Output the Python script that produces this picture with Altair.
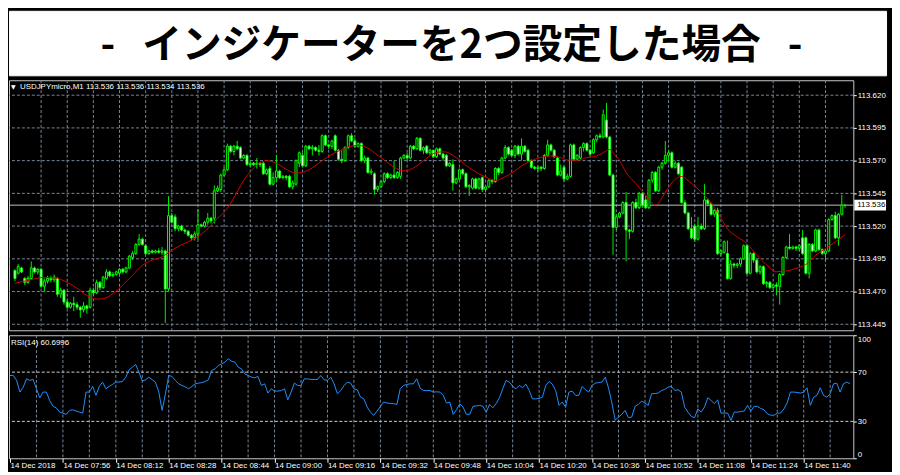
import altair as alt
import pandas as pd

TITLE = "-\u00a0\u00a0\u00a0インジケーターを2つ設定した場合\u00a0\u00a0\u00a0-"
HEADER_MAIN = "USDJPYmicro,M1  113.536 113.536 113.534 113.536"
HEADER_RSI = "RSI(14) 60.6996"

OPEN = [
113.486,113.484,113.488,113.480,113.477,113.480,113.488,113.485,113.487,113.474,113.478,113.480,113.479,113.480,113.468,113.471,
113.462,113.458,113.461,113.460,113.458,113.456,113.459,113.458,113.471,113.469,113.477,113.473,113.480,113.485,113.482,113.483,
113.484,113.487,113.485,113.488,113.496,113.499,113.506,113.510,113.505,113.499,113.501,113.500,113.501,113.500,113.501,113.472,
113.528,113.527,113.518,113.520,113.517,113.516,113.513,113.511,113.514,113.521,113.520,113.523,113.526,113.526,113.547,113.548,
113.559,113.563,113.581,113.577,113.581,113.580,113.572,113.574,113.567,113.568,113.567,113.568,113.568,113.560,113.564,113.552,
113.557,113.562,113.557,113.558,113.558,113.550,113.552,113.568,113.574,113.566,113.581,113.579,113.580,113.578,113.577,113.589,
113.582,113.581,113.589,113.578,113.571,113.570,113.580,113.589,113.585,113.581,113.583,113.570,113.572,113.561,113.560,113.548,
113.550,113.554,113.560,113.557,113.559,113.557,113.558,113.572,113.574,113.572,113.581,113.579,113.587,113.578,113.581,113.576,
113.578,113.573,113.579,113.575,113.574,113.566,113.567,113.553,113.556,113.563,113.560,113.550,113.549,113.556,113.549,113.557,
113.548,113.550,113.555,113.554,113.564,113.561,113.572,113.580,113.578,113.574,113.581,113.575,113.581,113.578,113.570,113.565,
113.564,113.565,113.564,113.574,113.582,113.578,113.572,113.559,113.565,113.556,113.558,113.582,113.571,113.572,113.580,113.583,
113.578,113.576,113.586,113.589,113.588,113.601,113.588,113.559,113.519,113.527,113.530,113.538,113.517,113.516,113.538,113.534,
113.545,113.540,113.534,113.555,113.561,113.547,113.565,113.568,113.574,113.576,113.565,113.568,113.565,113.538,113.530,113.518,
113.520,113.510,113.520,113.518,113.540,113.537,113.529,113.532,113.499,113.500,113.499,113.480,113.491,113.490,113.491,113.495,
113.505,113.484,113.499,113.494,113.485,113.489,113.476,113.477,113.473,113.475,113.474,113.483,113.496,113.504,113.503,113.504,
113.503,113.511,113.511,113.484,113.506,113.501,113.517,113.502,113.499,113.501,113.525,113.528,113.511,113.529,113.536]

HIGH = [
113.487,113.491,113.489,113.481,113.482,113.493,113.489,113.488,113.488,113.480,113.482,113.482,113.483,113.481,113.473,113.472,
113.464,113.462,113.466,113.462,113.459,113.462,113.460,113.473,113.473,113.479,113.478,113.482,113.487,113.486,113.485,113.486,
113.488,113.488,113.489,113.498,113.501,113.507,113.514,113.511,113.506,113.502,113.502,113.502,113.503,113.504,113.502,113.543,
113.530,113.529,113.521,113.521,113.518,113.517,113.514,113.516,113.533,113.522,113.524,113.530,113.527,113.551,113.551,113.560,
113.565,113.583,113.582,113.582,113.585,113.581,113.575,113.575,113.569,113.569,113.572,113.569,113.569,113.564,113.566,113.561,
113.574,113.563,113.559,113.559,113.559,113.555,113.571,113.577,113.576,113.582,113.582,113.582,113.581,113.582,113.590,113.590,
113.583,113.586,113.590,113.579,113.578,113.581,113.590,113.591,113.587,113.584,113.584,113.574,113.573,113.564,113.561,113.551,
113.555,113.561,113.561,113.560,113.570,113.562,113.573,113.575,113.576,113.582,113.582,113.588,113.588,113.581,113.582,113.579,
113.578,113.580,113.580,113.576,113.575,113.569,113.571,113.557,113.564,113.564,113.561,113.552,113.557,113.557,113.557,113.558,
113.551,113.556,113.556,113.565,113.565,113.573,113.582,113.581,113.579,113.582,113.582,113.587,113.582,113.579,113.571,113.566,
113.566,113.566,113.575,113.586,113.583,113.579,113.573,113.567,113.566,113.560,113.583,113.583,113.575,113.581,113.584,113.584,
113.579,113.587,113.590,113.591,113.609,113.614,113.589,113.560,113.529,113.531,113.539,113.546,113.518,113.539,113.541,113.546,
113.546,113.543,113.556,113.562,113.562,113.566,113.569,113.585,113.578,113.577,113.570,113.569,113.566,113.540,113.531,113.527,
113.522,113.527,113.522,113.552,113.541,113.538,113.533,113.534,113.502,113.509,113.509,113.494,113.492,113.492,113.496,113.506,
113.506,113.500,113.500,113.495,113.490,113.490,113.478,113.478,113.476,113.477,113.484,113.497,113.505,113.514,113.505,113.505,
113.506,113.517,113.512,113.507,113.507,113.518,113.518,113.503,113.502,113.526,113.529,113.531,113.530,113.544,113.536]

LOW = [
113.478,113.483,113.484,113.475,113.476,113.479,113.484,113.483,113.473,113.470,113.476,113.477,113.477,113.466,113.465,113.460,
113.457,113.457,113.455,113.456,113.450,113.454,113.453,113.457,113.467,113.468,113.471,113.472,113.479,113.481,113.481,113.482,
113.483,113.484,113.484,113.487,113.494,113.498,113.505,113.505,113.498,113.498,113.499,113.499,113.499,113.498,113.446,113.470,
113.522,113.516,113.516,113.516,113.514,113.512,113.509,113.509,113.510,113.519,113.519,113.521,113.522,113.522,113.546,113.546,
113.558,113.562,113.576,113.574,113.578,113.571,113.571,113.566,113.565,113.566,113.564,113.565,113.559,113.559,113.551,113.551,
113.554,113.556,113.556,113.555,113.549,113.548,113.551,113.565,113.565,113.565,113.578,113.574,113.577,113.574,113.576,113.581,
113.579,113.579,113.577,113.570,113.568,113.569,113.579,113.584,113.580,113.580,113.569,113.568,113.560,113.559,113.544,113.546,
113.549,113.553,113.556,113.556,113.556,113.556,113.556,113.571,113.570,113.571,113.578,113.578,113.577,113.575,113.575,113.574,
113.572,113.572,113.574,113.570,113.565,113.565,113.547,113.552,113.555,113.559,113.549,113.543,113.548,113.548,113.548,113.546,
113.546,113.549,113.552,113.553,113.559,113.560,113.571,113.574,113.573,113.572,113.574,113.570,113.576,113.569,113.564,113.563,
113.561,113.562,113.563,113.573,113.577,113.572,113.558,113.558,113.554,113.555,113.557,113.570,113.570,113.571,113.577,113.577,
113.574,113.575,113.584,113.587,113.587,113.587,113.558,113.498,113.517,113.526,113.529,113.493,113.510,113.515,113.533,113.533,
113.534,113.533,113.533,113.553,113.546,113.546,113.563,113.567,113.570,113.564,113.564,113.559,113.537,113.529,113.517,113.510,
113.508,113.509,113.517,113.517,113.535,113.528,113.527,113.498,113.497,113.499,113.479,113.479,113.488,113.488,113.489,113.494,
113.483,113.483,113.492,113.484,113.483,113.475,113.473,113.472,113.472,113.467,113.460,113.482,113.495,113.502,113.502,113.501,
113.501,113.498,113.483,113.480,113.500,113.500,113.501,113.498,113.493,113.500,113.524,113.510,113.505,113.528,113.534]

CLOSE = [
113.480,113.489,113.485,113.477,113.480,113.488,113.485,113.487,113.474,113.478,113.480,113.479,113.481,113.468,113.471,113.462,
113.458,113.461,113.460,113.458,113.456,113.459,113.457,113.471,113.469,113.477,113.473,113.481,113.485,113.482,113.483,113.485,
113.487,113.485,113.488,113.497,113.499,113.506,113.510,113.506,113.499,113.501,113.500,113.501,113.500,113.501,113.472,113.528,
113.523,113.518,113.520,113.517,113.516,113.513,113.511,113.514,113.521,113.520,113.523,113.526,113.524,113.547,113.549,113.559,
113.563,113.581,113.577,113.581,113.579,113.572,113.574,113.567,113.568,113.567,113.568,113.567,113.560,113.563,113.552,113.557,
113.562,113.557,113.558,113.557,113.550,113.553,113.570,113.576,113.566,113.581,113.579,113.580,113.578,113.577,113.589,113.582,
113.581,113.585,113.578,113.571,113.570,113.580,113.589,113.585,113.581,113.583,113.570,113.572,113.561,113.562,113.548,113.550,
113.554,113.560,113.557,113.559,113.557,113.561,113.572,113.574,113.572,113.581,113.579,113.587,113.578,113.580,113.576,113.578,
113.573,113.579,113.575,113.572,113.566,113.568,113.553,113.556,113.563,113.560,113.550,113.551,113.556,113.549,113.556,113.548,
113.550,113.555,113.554,113.564,113.561,113.572,113.580,113.575,113.574,113.581,113.575,113.581,113.577,113.570,113.565,113.564,
113.565,113.564,113.574,113.582,113.578,113.573,113.559,113.562,113.556,113.558,113.582,113.571,113.574,113.580,113.583,113.578,
113.575,113.586,113.589,113.588,113.605,113.588,113.559,113.519,113.527,113.530,113.538,113.517,113.516,113.538,113.534,113.545,
113.536,113.534,113.555,113.561,113.547,113.565,113.568,113.574,113.576,113.565,113.568,113.560,113.538,113.530,113.518,113.511,
113.510,113.520,113.518,113.540,113.537,113.529,113.532,113.499,113.501,113.508,113.480,113.491,113.490,113.491,113.495,113.505,
113.484,113.499,113.494,113.485,113.489,113.476,113.477,113.473,113.475,113.474,113.483,113.496,113.504,113.503,113.504,113.503,
113.505,113.499,113.484,113.506,113.501,113.517,113.502,113.499,113.501,113.525,113.528,113.511,113.529,113.536,113.536]

MA_BAR = [0,4,9,12,16,19,22,25,27,30,33,36,39,42,45,48,50,53,56,59,62,64,66,68,70,72,74,77,80,83,
          86,88,91,94,97,100,102,105,108,110,113,116,119,122,125,128,131,133,136,139,142,145,147,149,153,155,158,161,164,167,
          169,172,175,178,180,182,183,185,187,190,193,195,196,197,199,202,204,206,209,212,215,218,221,224,227,230,233,236,239,242,
          245,248,251,254]
MA_VALUE = [113.4764,113.4785,113.4808,113.4805,113.4770,113.4725,113.4670,113.4642,113.4645,113.4685,
            113.4750,113.4825,113.4900,113.4940,113.4965,113.5015,113.5045,113.5080,113.5120,113.5180,
            113.5260,113.5305,113.5375,113.5460,113.5550,113.5615,113.5665,113.5700,113.5680,113.5634,
            113.5605,113.5610,113.5645,113.5700,113.5748,113.5785,113.5806,113.5816,113.5795,113.5760,
            113.5705,113.5650,113.5622,113.5645,113.5700,113.5753,113.5768,113.5755,113.5705,113.5645,
            113.5600,113.5564,113.5548,113.5565,113.5622,113.5660,113.5700,113.5726,113.5736,113.5723,
            113.5705,113.5703,113.5723,113.5736,113.5760,113.5786,113.5760,113.5700,113.5610,113.5525,
            113.5435,113.5375,113.5361,113.5380,113.5458,113.5558,113.5579,113.5546,113.5483,113.5407,
            113.5306,113.5180,113.5117,113.5066,113.4978,113.4903,113.4852,113.4857,113.4877,113.4907,
            113.4978,113.5028,113.5079,113.5134]

RSI = [
67.3,67.3,63.3,53.8,57.8,64.6,63.3,64.1,56.5,49.2,53.8,53.8,47.0,42.2,41.0,37.5,
36.7,35.7,38.9,39.4,38.4,37.5,36.7,53.8,53.8,58.4,51.1,58.4,61.9,56.5,58.4,60.0,
61.9,62.0,62.4,65.9,71.9,74.0,76.2,70.0,62.7,63.8,65.9,63.8,61.9,53.8,38.9,52.4,
67.3,66.5,63.3,60.5,59.2,58.0,56.5,58.4,60.5,61.1,61.5,62.4,63.8,71.4,72.7,75.4,
76.7,78.1,80.8,78.9,78.1,74.0,72.7,68.6,67.3,66.0,65.4,66.5,59.2,60.5,53.0,56.5,
54.6,54.6,55.0,56.5,47.5,53.8,61.1,59.2,59.2,64.6,64.5,64.1,64.0,64.1,67.3,63.8,
63.3,65.9,60.5,52.4,55.1,59.0,61.9,61.1,56.5,55.7,49.7,48.3,41.6,37.5,34.9,38.4,
42.0,45.7,44.9,44.6,44.4,43.8,56.5,59.2,60.0,60.5,60.5,64.6,57.0,55.1,55.0,55.1,
53.8,54.0,53.8,51.1,44.9,45.7,35.7,39.4,44.3,41.6,35.7,35.7,42.2,42.5,43.0,42.2,
37.5,43.8,41.0,44.4,49.2,56.5,63.3,61.9,58.4,56.5,59.2,57.3,60.2,55.1,48.3,48.3,
48.5,49.7,59.2,62.4,60.2,55.1,43.0,45.7,41.6,53.8,54.6,51.1,51.1,58.4,55.7,53.8,
59.2,61.1,61.5,61.9,65.9,57.0,45.0,31.0,33.5,35.7,38.9,33.0,33.5,42.2,43.8,46.5,
44.9,43.0,52.4,52.6,53.0,55.0,56.0,57.8,58.4,55.1,55.7,53.8,41.6,37.5,34.1,33.0,
40.2,37.5,41.6,49.2,47.0,44.4,47.5,36.7,36.7,36.7,30.8,37.5,37.5,38.0,38.4,43.0,
38.4,42.2,42.2,40.5,39.4,36.1,35.0,34.9,36.7,36.7,40.0,45.0,53.8,53.8,53.5,53.0,
53.8,57.3,43.0,49.7,51.1,57.3,51.1,49.7,52.4,60.5,61.1,53.8,60.5,61.9,60.7]

TIME_TICK_BARS = [0, 16, 32, 48, 64, 80, 96, 112, 128, 144, 160, 176, 192, 208, 224, 240]
TIME_LABELS = ["14 Dec 2018", "14 Dec 07:56", "14 Dec 08:12", "14 Dec 08:28", "14 Dec 08:44",
               "14 Dec 09:00", "14 Dec 09:16", "14 Dec 09:32", "14 Dec 09:48", "14 Dec 10:04",
               "14 Dec 10:20", "14 Dec 10:36", "14 Dec 10:52", "14 Dec 11:08", "14 Dec 11:24",
               "14 Dec 11:40"]
GRID_BARS = [8, 16, 24, 32, 40, 48, 56, 64, 72, 80, 88, 96, 104, 112, 120, 128, 136, 144, 152,
             160, 168, 176, 184, 192, 200, 208, 216, 224, 232, 240, 248]
PRICE_TICKS = [113.445, 113.470, 113.495, 113.520, 113.545, 113.570, 113.595, 113.620]
RSI_TICKS = [0, 30, 70, 100]
RSI_LEVELS = [30, 70]
LAST_PRICE = 113.536

# ---------------- layout / style ----------------
W = 851
W_TOTAL = 884
H_TITLE = 65
H_MAIN = 252
H_RSI = 124
FONT = "Liberation Sans, Arial, sans-serif"
FS = 8
GRID_COLOR = "#778899"
FRAME = "#c8c8c8"

n = min(len(OPEN), len(HIGH), len(LOW), len(CLOSE))
bars = pd.DataFrame({
    "i": list(range(n)),
    "open": OPEN[:n], "high": HIGH[:n], "low": LOW[:n], "close": CLOSE[:n],
})
bars["dir"] = ["up" if c >= o else "down" for o, c in zip(bars["open"], bars["close"])]
ma = pd.DataFrame({"i": MA_BAR[:len(MA_VALUE)], "ma": MA_VALUE[:len(MA_BAR)]})
rsi = pd.DataFrame({"i": list(range(len(RSI))), "rsi": RSI})
vgrid = pd.DataFrame({"i": GRID_BARS})
hgrid = pd.DataFrame({"price": PRICE_TICKS})
rgrid = pd.DataFrame({"rsi": RSI_LEVELS})
last = pd.DataFrame({"price": [LAST_PRICE], "label": [f"{LAST_PRICE:.3f}"]})

XS = alt.Scale(domain=[-0.3, 255.0], nice=False, zero=False)
YS = alt.Scale(domain=[113.4404, 113.6314], nice=False, zero=False)
RS = alt.Scale(domain=[0, 100], nice=False, zero=False)

Y_AXIS = alt.Axis(orient="right", values=PRICE_TICKS, format=".3f", title="",
                  labelColor="white", labelFont=FONT, labelFontSize=FS, tickColor="white",
                  tickSize=3, labelPadding=1, domain=False, grid=False, labelFlush=False)
R_AXIS = alt.Axis(orient="right", values=RSI_TICKS, format="d", title="",
                  labelColor="white", labelFont=FONT, labelFontSize=FS, tickColor="white",
                  tickSize=3, labelPadding=1, domain=False, grid=False, labelFlush=True)
label_expr = "[" + ",".join(f"'{t}'" for t in TIME_LABELS) + "][round(datum.value / 16)]"
X_AXIS = alt.Axis(values=TIME_TICK_BARS, labelExpr=label_expr, title="", labelAlign="left",
                  labelBaseline="top", labelPadding=-1, tickSize=4, tickColor="white",
                  labelColor="white", labelFont=FONT, labelFontSize=FS, domain=False,
                  grid=False, labelFlush=False, labelOverlap=False, labelBound=False)

X_MAIN = alt.X("i:Q", scale=XS, axis=None)
X_RSI = alt.X("i:Q", scale=XS, axis=X_AXIS)

# ---------------- title ----------------
title_chart = alt.Chart(pd.DataFrame({"t": [TITLE]})).mark_text(
    font="Noto Sans CJK JP", fontSize=40, fontWeight="bold", color="black",
    align="center", baseline="middle"
).encode(
    text="t:N", x=alt.value(446), y=alt.value(36)
).properties(width=W_TOTAL, height=H_TITLE,
             view=alt.ViewBackground(fill="white", stroke="white"))

# ---------------- main price panel ----------------
g_v = alt.Chart(vgrid).mark_rule(color=GRID_COLOR, strokeDash=[3, 2], strokeWidth=1).encode(x=X_MAIN)
g_h = alt.Chart(hgrid).mark_rule(color=GRID_COLOR, strokeDash=[3, 2], strokeWidth=1).encode(
    y=alt.Y("price:Q", scale=YS, axis=Y_AXIS))
last_line = alt.Chart(last).mark_rule(color="#c0c0c0", strokeWidth=1).encode(
    y=alt.Y("price:Q", scale=YS, axis=Y_AXIS))
wicks = alt.Chart(bars).mark_rule(color="#00ee00", strokeWidth=1, clip=True).encode(
    x=X_MAIN, y=alt.Y("low:Q", scale=YS, axis=Y_AXIS), y2="high:Q")
bodies = alt.Chart(bars).mark_bar(size=2, stroke="#00ff00", strokeWidth=1, clip=True).encode(
    x=X_MAIN, y=alt.Y("open:Q", scale=YS, axis=Y_AXIS), y2="close:Q",
    fill=alt.Fill("dir:N", scale=alt.Scale(domain=["up", "down"], range=["#000000", "#eaffea"]),
                  legend=None))
ma_line = alt.Chart(ma).mark_line(color="#d40000", strokeWidth=1, interpolate="monotone", clip=True).encode(
    x=X_MAIN, y=alt.Y("ma:Q", scale=YS, axis=Y_AXIS))
box = alt.Chart(last).mark_rule(color="white", strokeWidth=11).encode(
    y=alt.Y("price:Q", scale=YS, axis=Y_AXIS), x=alt.value(W + 1), x2=alt.value(W_TOTAL))
box_text = alt.Chart(last).mark_text(color="black", font=FONT, fontSize=FS, align="left",
                                     baseline="middle").encode(
    y=alt.Y("price:Q", scale=YS, axis=Y_AXIS), x=alt.value(W + 4), text="label:N")
tri = alt.Chart(pd.DataFrame({"t": ["▼"]})).mark_text(
    color="white", font="DejaVu Sans", fontSize=6, align="left", baseline="middle"
).encode(x=alt.value(2), y=alt.value(7), text="t:N")
head = alt.Chart(pd.DataFrame({"t": [HEADER_MAIN]})).mark_text(
    color="white", font=FONT, fontSize=FS, align="left", baseline="middle"
).encode(x=alt.value(11), y=alt.value(7), text="t:N")

main = alt.layer(g_v, g_h, last_line, wicks, bodies, ma_line, box, box_text, tri, head).properties(
    width=W, height=H_MAIN, view=alt.ViewBackground(fill="black", stroke=FRAME, strokeWidth=1))

# ---------------- RSI panel ----------------
r_v = alt.Chart(vgrid).mark_rule(color=GRID_COLOR, strokeDash=[3, 2], strokeWidth=1).encode(x=X_RSI)
r_h = alt.Chart(rgrid).mark_rule(color="#d0d0d0", strokeDash=[3, 2], strokeWidth=1).encode(
    y=alt.Y("rsi:Q", scale=RS, axis=R_AXIS))
r_line = alt.Chart(rsi).mark_line(color="#1e90ff", strokeWidth=1, clip=True).encode(
    x=X_RSI, y=alt.Y("rsi:Q", scale=RS, axis=R_AXIS))
r_head = alt.Chart(pd.DataFrame({"t": [HEADER_RSI]})).mark_text(
    color="white", font=FONT, fontSize=FS, align="left", baseline="middle"
).encode(x=alt.value(2), y=alt.value(8), text="t:N")

rsi_panel = alt.layer(r_v, r_h, r_line, r_head).properties(
    width=W, height=H_RSI, view=alt.ViewBackground(fill="black", stroke=FRAME, strokeWidth=1))

chart = alt.vconcat(title_chart, main, rsi_panel, spacing=3).properties(
    background="black", padding=0
).configure_view(stroke=FRAME)

chart.save("out.html", embed_options={"renderer": "svg", "actions": False})
